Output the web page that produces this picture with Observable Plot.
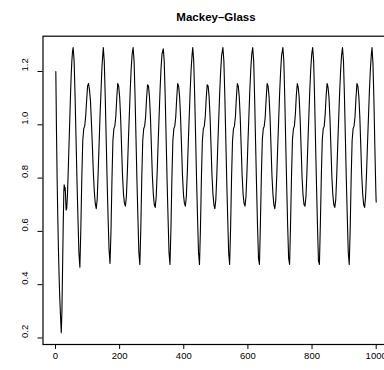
<!DOCTYPE html>
<html><head><meta charset="utf-8">
<script src="https://cdn.jsdelivr.net/npm/d3@7"></script>
<script src="https://cdn.jsdelivr.net/npm/@observablehq/plot@0.6"></script>
<style>
html,body{margin:0;padding:0;background:#fff;overflow:hidden;width:384px;height:370px}
</style></head><body><div id="chart"></div>
<script>
const title = "Mackey–Glass";
const xTicks = [0, 200, 400, 600, 800, 1000];
const yTicks = [0.2, 0.4, 0.6, 0.8, 1.0, 1.2];

// time index
const t = [
  1,3,5,7,9,11,13,15,17,18,20,22,24,26,27,28,29,30,31,33,35,37,39,41,43,45,47,49,51,53,
  55,58,61,64,67,70,73,76,79,82,85,88,91,94,97,100,103,106,109,112,115,118,121,124,127,130,133,136,139,142,145,
  149,152,155,158,161,164,167,170,173,176,179,182,185,188,191,194,197,200,203,206,209,212,215,218,221,224,227,230,233,236,239,
  242,245,248,251,254,257,260,263,266,269,272,275,278,281,284,287,290,293,296,299,302,305,308,311,314,317,320,323,326,329,332,
  336,339,342,345,348,351,354,357,360,363,366,369,372,375,378,381,384,387,390,393,396,399,402,405,408,411,414,417,420,423,426,
  428,431,434,437,440,443,446,449,452,455,458,461,464,467,470,473,476,479,482,485,488,491,494,497,500,503,506,509,512,515,518,
  522,525,528,531,534,537,540,543,546,549,552,555,558,561,564,567,570,573,576,579,582,585,588,591,594,597,600,603,606,609,612,
  615,618,621,624,627,630,633,636,639,642,645,648,651,654,657,660,663,666,669,672,675,678,681,684,687,690,693,696,699,702,705,
  709,712,715,718,721,724,727,730,733,736,739,742,745,748,751,754,757,760,763,766,769,772,775,778,781,784,787,790,793,796,799,
  802,805,808,811,814,817,820,823,826,829,832,835,838,841,844,847,850,853,856,859,862,865,868,871,874,877,880,883,886,889,892,
  895,898,901,904,907,910,913,916,919,922,925,928,931,934,937,940,943,946,949,952,955,958,961,964,967,970,973,976,979,982,985,
  987,990,993,996,999,1000
];

// Mackey–Glass values
const mg = [
  1.20,0.98,0.80,0.66,0.54,0.44,0.36,0.30,0.245,0.22,0.30,0.46,0.62,0.75,0.775,0.77,0.755,0.765,0.745,0.68,0.685,0.73,0.80,0.88,0.96,1.04,1.12,1.19,1.24,1.275,
  1.29,1.24,1.11,0.95,0.79,0.65,0.52,0.466,0.61,0.80,0.94,0.985,0.995,1.03,1.09,1.145,1.155,1.13,1.09,1.01,0.92,0.82,0.75,0.705,0.685,0.72,0.82,0.93,1.04,1.13,1.22,
  1.29,1.24,1.11,0.95,0.79,0.65,0.53,0.48,0.60,0.79,0.94,0.985,0.995,1.03,1.10,1.155,1.145,1.105,1.03,0.92,0.81,0.74,0.705,0.695,0.73,0.82,0.93,1.03,1.13,1.21,1.265,
  1.29,1.24,1.11,0.95,0.79,0.65,0.52,0.476,0.61,0.80,0.94,0.985,0.995,1.03,1.10,1.15,1.145,1.105,1.03,0.92,0.81,0.74,0.70,0.69,0.73,0.82,0.93,1.03,1.13,1.21,1.265,
  1.285,1.24,1.11,0.95,0.79,0.65,0.52,0.476,0.61,0.80,0.94,0.985,0.995,1.03,1.10,1.155,1.145,1.105,1.03,0.92,0.81,0.74,0.705,0.695,0.73,0.82,0.93,1.03,1.13,1.21,1.265,
  1.29,1.24,1.11,0.95,0.79,0.65,0.52,0.476,0.61,0.80,0.94,0.985,0.995,1.03,1.10,1.15,1.145,1.105,1.03,0.92,0.81,0.74,0.70,0.685,0.72,0.81,0.92,1.02,1.12,1.20,1.26,
  1.29,1.24,1.11,0.95,0.79,0.65,0.52,0.476,0.61,0.80,0.94,0.985,0.995,1.03,1.10,1.155,1.145,1.105,1.03,0.92,0.81,0.74,0.705,0.695,0.73,0.82,0.93,1.03,1.13,1.21,1.265,
  1.29,1.24,1.10,0.93,0.77,0.62,0.50,0.476,0.63,0.81,0.945,0.985,0.995,1.03,1.10,1.155,1.145,1.105,1.03,0.92,0.81,0.74,0.70,0.685,0.72,0.81,0.92,1.02,1.12,1.20,1.26,
  1.29,1.24,1.10,0.93,0.77,0.62,0.50,0.476,0.63,0.81,0.945,0.985,0.995,1.04,1.11,1.155,1.14,1.10,1.02,0.91,0.80,0.735,0.70,0.695,0.73,0.82,0.93,1.03,1.13,1.21,1.265,
  1.29,1.24,1.10,0.93,0.77,0.62,0.49,0.476,0.63,0.81,0.945,0.985,0.995,1.04,1.11,1.155,1.14,1.10,1.02,0.91,0.80,0.735,0.70,0.69,0.72,0.81,0.92,1.02,1.12,1.20,1.26,
  1.29,1.24,1.11,0.95,0.79,0.65,0.52,0.476,0.61,0.80,0.94,0.985,0.995,1.03,1.10,1.155,1.145,1.105,1.03,0.92,0.81,0.74,0.70,0.69,0.73,0.82,0.93,1.03,1.13,1.21,1.265,
  1.29,1.23,1.09,0.91,0.75,0.71
];

const data = t.map((x, i) => ({t: x, v: mg[i]}));
const font = "'Liberation Sans', Arial, Helvetica, sans-serif";

const chart = Plot.plot({
  width: 384,
  height: 370,
  marginLeft: 42.5,
  marginRight: -4.5,
  marginTop: 35.7,
  marginBottom: 26,
  x: {domain: [-39, 1040], axis: null},
  y: {domain: [0.1756, 1.3325], axis: null},
  style: {fontFamily: font, background: "white", color: "black"},
  marks: [
    Plot.line(data, {x: "t", y: "v", stroke: "black", strokeWidth: 1.1}),
    Plot.frame({stroke: "black", strokeWidth: 1.2}),
    Plot.axisX({ticks: xTicks, tickSize: 5, tickPadding: 3, tickFormat: d => String(d), fontSize: 9.5, label: null, stroke: "black", fill: "black"}),
    Plot.axisY({ticks: yTicks, tickSize: 5, tickFormat: () => "", label: null, stroke: "black"}),
    Plot.text(yTicks, {y: d => d, text: d => d.toFixed(1), frameAnchor: "left", dx: -18, rotate: -90, fontSize: 9.5, fill: "black"}),
    Plot.text([title], {frameAnchor: "top", dy: -23, text: d => d, fontWeight: "bold", fontSize: 11.5, fill: "black"})
  ]
});
document.getElementById("chart").appendChild(chart);
</script>
</body></html>
